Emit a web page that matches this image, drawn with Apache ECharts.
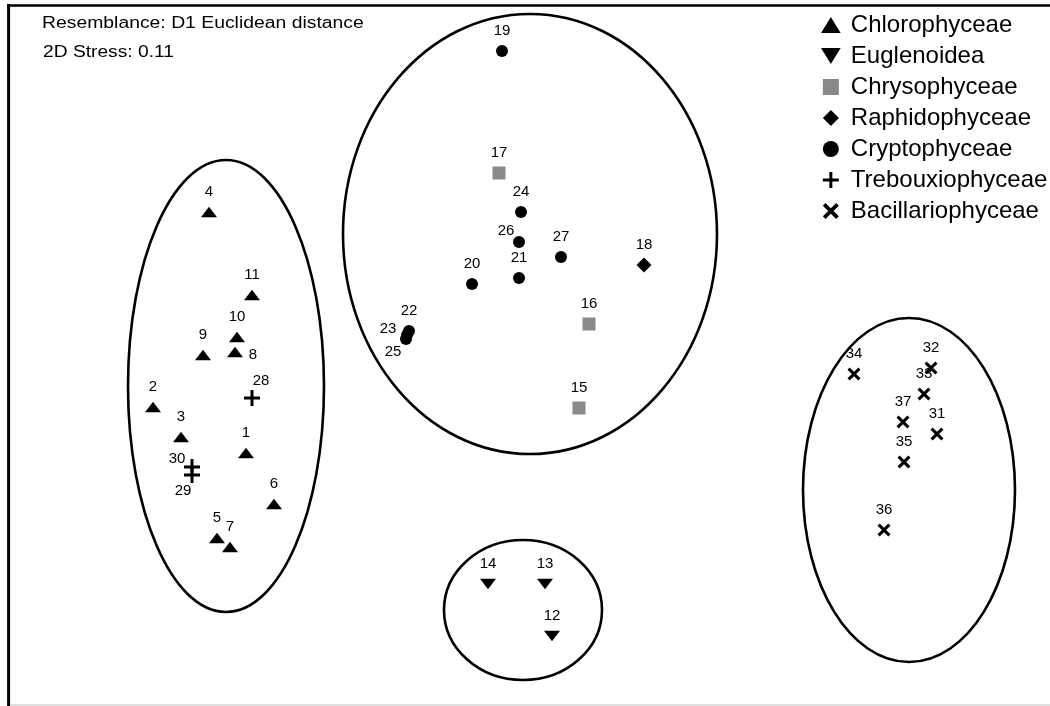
<!DOCTYPE html>
<html>
<head>
<meta charset="utf-8">
<script src="https://cdn.jsdelivr.net/npm/echarts@6/dist/echarts.min.js"></script>
<style>
html,body{margin:0;padding:0;background:#fff;}
#chart{width:1050px;height:706px;}
</style>
</head>
<body>
<div id="chart"></div>
<script>
// ---- data (ordination coordinates, screen-like units, y downward) ----
const chloroIds = ['1','2','3','4','5','6','7','8','9','10','11'];
const chloroX   = [246,153,181,209,217,274,230,235,203,237,252];
const chloroY   = [453,407,437,212,538,504,547,352,355,337,295];

const euglenIds = ['12','13','14'];
const euglenX   = [552,545,488];
const euglenY   = [636,584,584];

const chrysoIds = ['15','16','17'];
const chrysoX   = [579,589,499];
const chrysoY   = [408,324,173];

const raphidoIds = ['18'];
const raphidoX   = [644];
const raphidoY   = [265];

const cryptoIds = ['19','20','21','22','23','24','25','26','27'];
const cryptoX   = [502,472,519,409,407,521,406,519,561];
const cryptoY   = [51,284,278,331,335,212,339,242,257];

const trebouxIds = ['28','29','30'];
const trebouxX   = [252,192,192];
const trebouxY   = [398,475,467];

const bacillIds = ['31','32','33','34','35','36','37'];
const bacillX   = [937,931,924,854,904,884,903];
const bacillY   = [434,368,394,374,462,530,422];

// group ellipses: centre x, centre y, radius x, radius y
const ellipseCX = [226,530,523,909];
const ellipseCY = [386,234,610,490];
const ellipseRX = [98,187,79,106];
const ellipseRY = [226,220,70,172];

const groupNames = ['Chlorophyceae','Euglenoidea','Chrysophyceae','Raphidophyceae','Cryptophyceae','Trebouxiophyceae','Bacillariophyceae'];
const annotations = ['Resemblance: D1 Euclidean distance','2D Stress: 0.11'];

// ---- styles ----
const labelOffsets = {'8':[18,3],'23':[-19,-6],'25':[-13,13],'26':[-13,-11],'30':[-15,-8],'29':[-9,16],'28':[9,-17]};
const defaultOffset = [0,-20];
const FONT = '"Liberation Sans", Arial, sans-serif';

const upTri = 'path://M8,0L16,13L0,13Z';
const downTri = 'path://M0,0L16,0L8,13Z';
const squarePath = 'path://M0,0H13V13H0Z';
const diamondPath = 'path://M7.5,0L15,7.5L7.5,15L0,7.5Z';
const plusPath = 'path://M6.5,0H9.5V6.5H16V9.5H9.5V16H6.5V9.5H0V6.5H6.5Z';
const crossPath = 'path://M0,2.3L2.3,0L7,4.7L11.7,0L14,2.3L9.3,7L14,11.7L11.7,14L7,9.3L2.3,14L0,11.7L4.7,7Z';

function pts(ids, xs, ys) {
  return ids.map((id, i) => {
    const off = labelOffsets[id] || defaultOffset;
    return {name: id, value: [xs[i], ys[i]], label: {offset: off}};
  });
}

function scatter(name, ids, xs, ys, symbol, size, color) {
  return {
    name: name,
    type: 'scatter',
    data: pts(ids, xs, ys),
    symbol: symbol,
    symbolSize: size,
    symbolKeepAspect: true,
    itemStyle: {color: color, opacity: 1},
    label: {
      show: true,
      position: 'inside',
      formatter: p => p.name,
      color: '#000',
      fontSize: 15,
      fontFamily: FONT
    },
    emphasis: {disabled: true},
    z: 3
  };
}

const chart = echarts.init(document.getElementById('chart'), null, {renderer: 'canvas'});

const ellipseData = ellipseCX.map((cx, i) => [cx, ellipseCY[i], ellipseRX[i], ellipseRY[i]]);

const option = {
  animation: false,
  backgroundColor: '#fff',
  grid: {left: 0, right: 0, top: 0, bottom: 0},
  xAxis: {type: 'value', min: 0, max: 1050, show: false},
  yAxis: {type: 'value', min: 0, max: 706, inverse: true, show: false},
  legend: {
    data: groupNames,
    orient: 'vertical',
    left: 816,
    top: 8,
    itemWidth: 30,
    itemHeight: 16,
    itemGap: 7,
    symbolKeepAspect: true,
    textStyle: {fontSize: 24, fontFamily: FONT, color: '#000', lineHeight: 24},
    selectedMode: false
  },
  graphic: [
    {type: 'line', shape: {x1: 8.6, y1: 4, x2: 8.6, y2: 706}, style: {stroke: '#000', lineWidth: 3}, silent: true},
    {type: 'line', shape: {x1: 7, y1: 5.5, x2: 1050, y2: 5.5}, style: {stroke: '#000', lineWidth: 2.7}, silent: true},
    {type: 'line', shape: {x1: 10, y1: 705, x2: 1050, y2: 705}, style: {stroke: '#d4d4d4', lineWidth: 1.5}, silent: true},
    {type: 'text', x: 42, y: 16, scaleX: 1.21, style: {text: annotations[0], font: '16px ' + FONT, fill: '#000'}, silent: true},
    {type: 'text', x: 43, y: 45, scaleX: 1.2, style: {text: annotations[1], font: '16px ' + FONT, fill: '#000'}, silent: true}
  ],
  series: [
    {
      name: 'groups',
      type: 'custom',
      data: ellipseData,
      silent: true,
      z: 1,
      renderItem: function (params, api) {
        const c = api.coord([api.value(0), api.value(1)]);
        const s = api.size([api.value(2), api.value(3)]);
        return {
          type: 'ellipse',
          shape: {cx: c[0], cy: c[1], rx: s[0], ry: s[1]},
          style: {fill: null, stroke: '#000', lineWidth: 2.6}
        };
      }
    },
    scatter(groupNames[0], chloroIds, chloroX, chloroY, upTri, [16,13], '#000'),
    scatter(groupNames[1], euglenIds, euglenX, euglenY, downTri, [16,13], '#000'),
    scatter(groupNames[2], chrysoIds, chrysoX, chrysoY, squarePath, 13, '#898989'),
    scatter(groupNames[3], raphidoIds, raphidoX, raphidoY, diamondPath, 15, '#000'),
    scatter(groupNames[4], cryptoIds, cryptoX, cryptoY, 'circle', 12, '#000'),
    scatter(groupNames[5], trebouxIds, trebouxX, trebouxY, plusPath, 16, '#000'),
    scatter(groupNames[6], bacillIds, bacillX, bacillY, crossPath, 13, '#000')
  ]
};
chart.setOption(option);
</script>
</body>
</html>
